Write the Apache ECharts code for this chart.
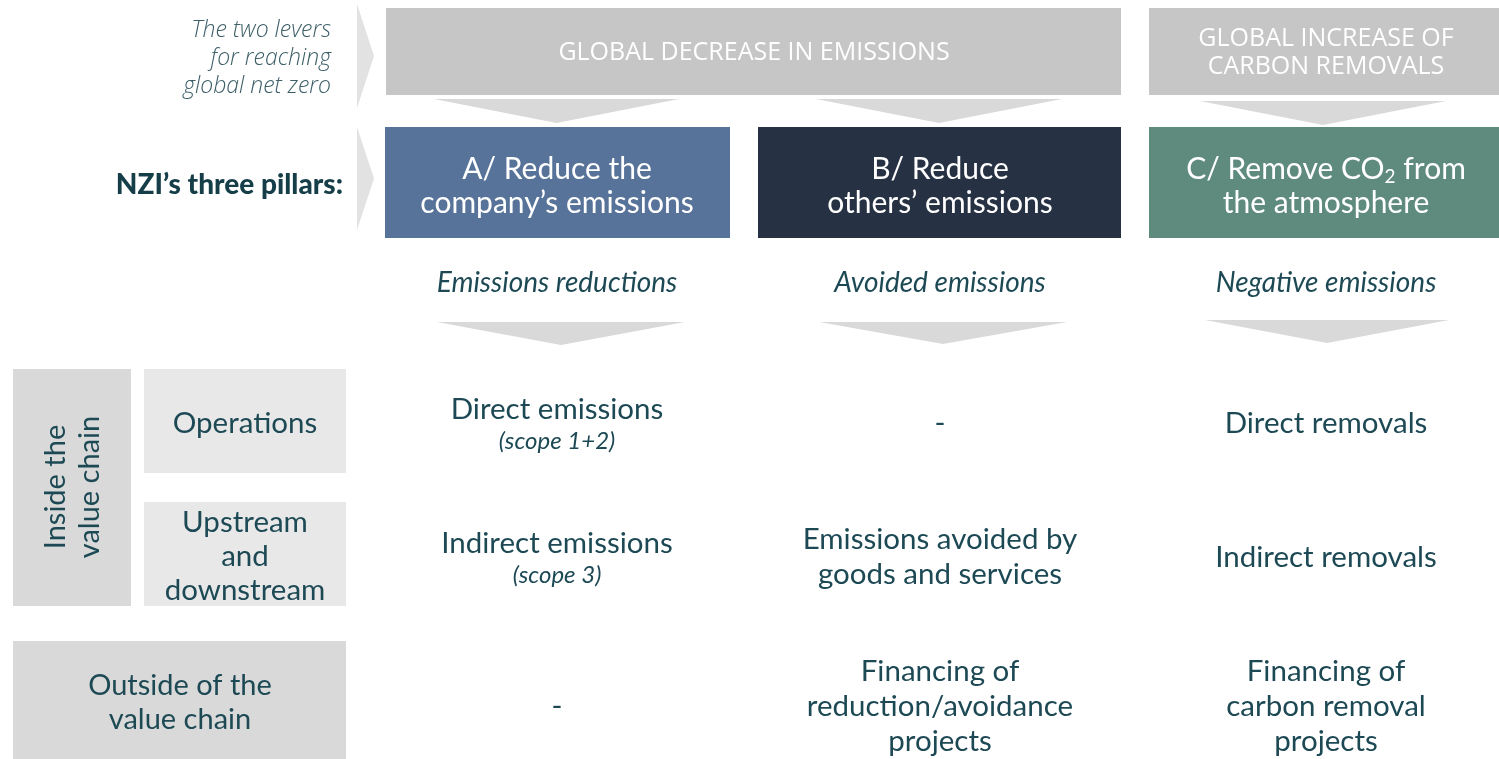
<!DOCTYPE html>
<html><head><meta charset="utf-8">
<script src="https://cdn.jsdelivr.net/npm/echarts@6/dist/echarts.min.js"></script>
<style>html,body{margin:0;padding:0;background:#fff}#c{width:1499px;height:759px}</style>
</head><body><div id="c"></div>
<script>
// ---------------- data ----------------
const leverCaption = 'The two levers\nfor reaching\nglobal net zero';
const levers = ['GLOBAL DECREASE IN EMISSIONS', 'GLOBAL INCREASE OF\nCARBON REMOVALS'];
const pillarsTitle = 'NZI\u2019s three pillars:';
const pillars = ['A/ Reduce the\ncompany\u2019s emissions', 'B/ Reduce\nothers\u2019 emissions', 'C/ Remove CO\u2082 from\nthe atmosphere'];
const pillarTypes = ['Emissions reductions', 'Avoided emissions', 'Negative emissions'];
const groupLabels = ['Inside the\nvalue chain', 'Outside of the\nvalue chain'];
const rowLabels = ['Operations', 'Upstream\nand\ndownstream'];
const cellText = [
  ['Direct emissions', '-', 'Direct removals'],
  ['Indirect emissions', 'Emissions avoided by\ngoods and services', 'Indirect removals'],
  ['-', 'Financing of\nreduction/avoidance\nprojects', 'Financing of\ncarbon removal\nprojects']
];
const cellNotes = [
  ['(scope 1+2)', '', ''],
  ['(scope 3)', '', ''],
  ['', '', '']
];

// ---------------- layout (axis units = px) ----------------
const L = {
  pillarCols: [[385, 730], [758, 1121], [1149, 1499]],
  textX: [557, 940, 1326],
  leverCols: [[386, 1121], [1149, 1499]],
  leverTextX: [754, 1326],
  leverY: [8, 95],
  leverDown: [[434, 679, 99, 123], [816, 1062, 99, 123], [1200, 1446, 101, 125]],
  pillarY: [127, 238],
  pillarTextY: 186,
  typeY: 283,
  typeDown: [[437, 685, 322, 345], [819, 1067, 322, 344], [1205, 1449, 320, 343]],
  chevrons: [[357, 374, 4, 108], [357, 374, 127, 230]],
  captionX: 331, captionY: 58,
  titleX: 343, titleY: 185,
  groupBoxes: [[13, 131, 369, 606], [13, 346, 641, 759]],
  groupText: [[73, 487, true], [180, 703, false]],
  rowBoxes: [[144, 346, 369, 473], [144, 346, 502, 606]],
  rowY: [423, 557, 706]
};

const C = {
  lever: '#c6c6c6', arrow: '#d9d9d9', chevron: '#e2e2e2',
  pillars: ['#577399', '#273144', '#5e8b7e'],
  text: '#1d4955', caption: '#3d5f67',
  group: '#d9d9d9', row: '#e8e8e8'
};
const SANS = 'Lato, "Noto Sans", sans-serif';
const OPEN = '"Open Sans", "Noto Sans", sans-serif';

function rectEl(api, x0, x1, y0, y1, fill) {
  const p0 = api.coord([x0, y0]), p1 = api.coord([x1, y1]);
  return { type: 'rect', shape: { x: p0[0], y: p0[1], width: p1[0] - p0[0], height: p1[1] - p0[1] }, style: { fill: fill } };
}
function polyEl(api, pts, fill) {
  return { type: 'polygon', shape: { points: pts.map(p => api.coord(p)) }, style: { fill: fill } };
}
function textEl(api, x, y, text, st) {
  const p = api.coord([x, y]);
  return { type: 'text', x: p[0], y: p[1], rotation: st.rotation || 0,
    style: Object.assign({ text: text, x: 0, y: 0, align: st.align || 'center', textAlign: st.align || 'center',
      verticalAlign: 'middle', textVerticalAlign: 'middle' }, st.style) };
}
function series(arr, fn) {
  return { type: 'custom', coordinateSystem: 'cartesian2d', silent: true, animation: false,
    data: arr.map((_, i) => [i, 0]), renderItem: (params, api) => fn(params.dataIndex, api) };
}

const cellList = [];
cellText.forEach((row, r) => row.forEach((t, c) => cellList.push([r, c])));

const option = {
  animation: false,
  grid: { left: 0, right: 0, top: 0, bottom: 0 },
  xAxis: { type: 'value', min: 0, max: 1499, show: false },
  yAxis: { type: 'value', min: 0, max: 759, inverse: true, show: false },
  series: [
    // left chevrons
    series(L.chevrons, (i, api) => {
      const c = L.chevrons[i];
      return polyEl(api, [[c[0], c[2]], [c[1], (c[2] + c[3]) / 2], [c[0], c[3]]], C.chevron);
    }),
    // caption and title
    series([leverCaption], (i, api) => textEl(api, L.captionX, L.captionY, leverCaption, {
      align: 'right', style: { fill: C.caption, fontFamily: OPEN, fontStyle: 'italic', fontWeight: 300, fontSize: 23, lineHeight: 28 } })),
    series([pillarsTitle], (i, api) => textEl(api, L.titleX, L.titleY, pillarsTitle, {
      align: 'right', style: { fill: '#163e49', fontFamily: SANS, fontWeight: 900, fontSize: 28 } })),
    // levers
    series(levers, (i, api) => {
      const c = L.leverCols[i];
      return { type: 'group', children: [
        rectEl(api, c[0], c[1], L.leverY[0], L.leverY[1], C.lever),
        textEl(api, L.leverTextX[i], (L.leverY[0] + L.leverY[1]) / 2 + 1, levers[i], {
          style: { fill: '#ffffff', fontFamily: OPEN, fontSize: 25, lineHeight: 28 } })
      ] };
    }),
    // arrows below levers
    series(L.leverDown, (i, api) => {
      const a = L.leverDown[i];
      return polyEl(api, [[a[0], a[2]], [a[1], a[2]], [(a[0] + a[1]) / 2, a[3]]], C.arrow);
    }),
    // pillars
    series(pillars, (i, api) => {
      const c = L.pillarCols[i];
      const txt = pillars[i].replace('\u2082', '{sub|2}');
      return { type: 'group', children: [
        rectEl(api, c[0], c[1], L.pillarY[0], L.pillarY[1], C.pillars[i]),
        textEl(api, L.textX[i], L.pillarTextY, txt, {
          style: { fill: '#ffffff', fontFamily: SANS, fontSize: 30, lineHeight: 34,
            rich: { sub: { fill: '#ffffff', fontFamily: SANS, fontSize: 19, lineHeight: 16, verticalAlign: 'bottom' } } } })
      ] };
    }),
    // pillar types
    series(pillarTypes, (i, api) => textEl(api, L.textX[i], L.typeY, pillarTypes[i], {
      style: { fill: C.text, fontFamily: SANS, fontStyle: 'italic', fontSize: 28 } })),
    series(L.typeDown, (i, api) => {
      const a = L.typeDown[i];
      return polyEl(api, [[a[0], a[2]], [a[1], a[2]], [(a[0] + a[1]) / 2, a[3]]], C.arrow);
    }),
    // group boxes
    series(groupLabels, (i, api) => {
      const b = L.groupBoxes[i], g = L.groupText[i];
      return { type: 'group', children: [
        rectEl(api, b[0], b[1], b[2], b[3], C.group),
        textEl(api, g[0], g[1], groupLabels[i], { rotation: g[2] ? Math.PI / 2 : 0,
          style: { fill: C.text, fontFamily: SANS, fontSize: 29, lineHeight: 34 } })
      ] };
    }),
    // row boxes
    series(rowLabels, (i, api) => {
      const b = L.rowBoxes[i];
      return { type: 'group', children: [
        rectEl(api, b[0], b[1], b[2], b[3], C.row),
        textEl(api, (b[0] + b[1]) / 2, (b[2] + b[3]) / 2 + 2, rowLabels[i], {
          style: { fill: C.text, fontFamily: SANS, fontSize: 29.5, lineHeight: 34 } })
      ] };
    }),
    // cells
    series(cellList, (i, api) => {
      const r = cellList[i][0], c = cellList[i][1];
      const note = cellNotes[r][c];
      const y = L.rowY[r];
      const kids = [textEl(api, L.textX[c], note ? y - 14 : y, cellText[r][c], {
        style: { fill: C.text, fontFamily: SANS, fontSize: 29.5, lineHeight: 35 } })];
      if (note) kids.push(textEl(api, L.textX[c], y + 18, note, {
        style: { fill: C.text, fontFamily: SANS, fontStyle: 'italic', fontSize: 24 } }));
      return { type: 'group', children: kids };
    })
  ]
};

const chart = echarts.init(document.getElementById('c'), null, { renderer: 'canvas' });
chart.setOption(option);
</script>
</body></html>
